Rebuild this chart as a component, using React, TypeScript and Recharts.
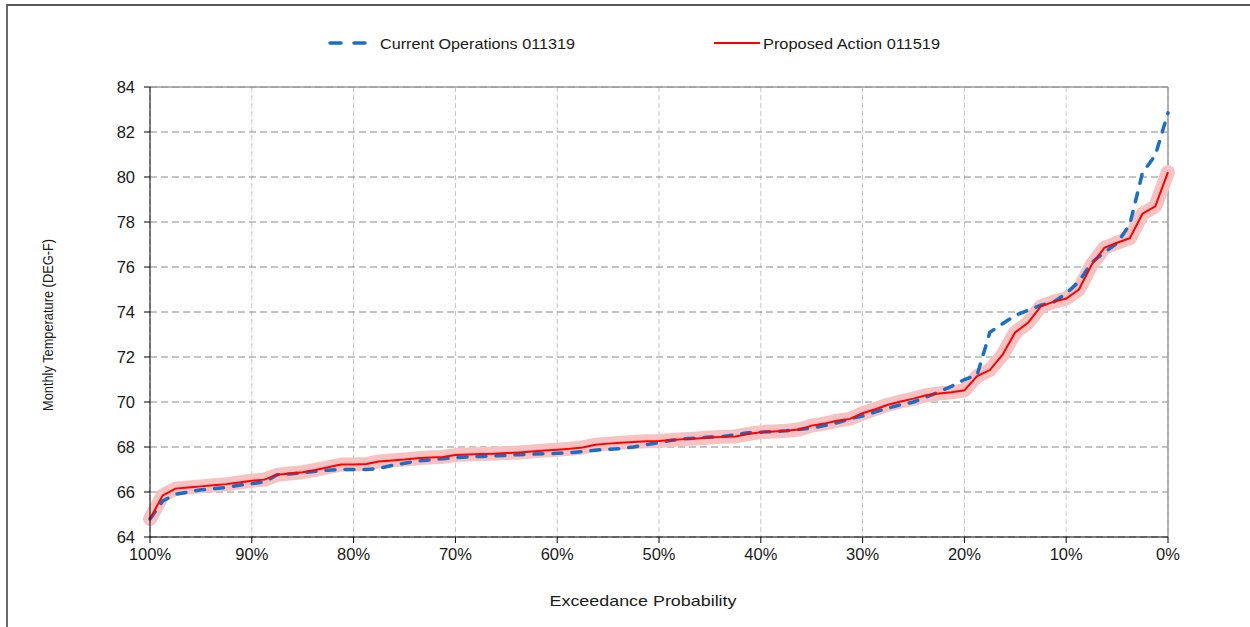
import React from "react";
import {
  LineChart,
  Line,
  XAxis,
  YAxis,
  CartesianGrid,
  ReferenceLine,
  Legend,
} from "recharts";

// Exceedance probability (%) for each ranked value
const prob = [
  100, 98.75, 97.5, 96.25, 95, 93.75, 92.5, 91.25, 90, 88.75, 87.5, 86.25, 85,
  83.75, 82.5, 81.25, 80, 78.75, 77.5, 76.25, 75, 73.75, 72.5, 71.25, 70, 68.75,
  67.5, 66.25, 65, 63.75, 62.5, 61.25, 60, 58.75, 57.5, 56.25, 55, 53.75, 52.5,
  51.25, 50, 48.75, 47.5, 46.25, 45, 43.75, 42.5, 41.25, 40, 38.75, 37.5, 36.25,
  35, 33.75, 32.5, 31.25, 30, 28.75, 27.5, 26.25, 25, 23.75, 22.5, 21.25, 20,
  18.75, 17.5, 16.25, 15, 13.75, 12.5, 11.25, 10, 8.75, 7.5, 6.25, 5, 3.75, 2.5,
  1.25, 0,
];

// Current Operations 011319 (deg F)
const currentOps = [
  64.8, 65.6, 65.9, 66.0, 66.1, 66.15, 66.2, 66.3, 66.37, 66.45, 66.77, 66.8,
  66.85, 66.92, 66.97, 67.0, 67.0, 67.0, 67.05, 67.18, 67.28, 67.38, 67.43,
  67.48, 67.52, 67.56, 67.58, 67.6, 67.63, 67.66, 67.68, 67.7, 67.72, 67.75,
  67.8, 67.86, 67.9, 67.93, 68.0, 68.1, 68.2, 68.3, 68.36, 68.4, 68.44, 68.47,
  68.55, 68.63, 68.66, 68.68, 68.72, 68.78, 68.84, 68.95, 69.08, 69.25, 69.38,
  69.56, 69.73, 69.88, 70.0, 70.22, 70.45, 70.7, 71.0, 71.2, 73.1, 73.48, 73.85,
  74.08, 74.3, 74.44, 74.82, 75.35, 76.2, 76.65, 77.05, 77.9, 80.2, 80.96, 82.85,
];

// Proposed Action 011519 (deg F)
const proposedAction = [
  64.8, 65.85, 66.15, 66.2, 66.25, 66.3, 66.35, 66.42, 66.5, 66.55, 66.77, 66.82,
  66.88, 66.98, 67.1, 67.22, 67.22, 67.24, 67.36, 67.4, 67.44, 67.5, 67.53,
  67.56, 67.64, 67.67, 67.69, 67.7, 67.73, 67.76, 67.8, 67.84, 67.88, 67.92,
  67.98, 68.1, 68.15, 68.19, 68.22, 68.26, 68.27, 68.31, 68.35, 68.38, 68.42,
  68.45, 68.47, 68.58, 68.66, 68.69, 68.72, 68.78, 68.95, 69.04, 69.17, 69.25,
  69.5, 69.68, 69.88, 70.02, 70.15, 70.3, 70.38, 70.43, 70.52, 71.15, 71.42,
  72.1, 73.1, 73.52, 74.25, 74.45, 74.6, 75.0, 76.1, 76.85, 77.08, 77.28, 78.37,
  78.7, 80.22,
];

const xTicks = [0, 10, 20, 30, 40, 50, 60, 70, 80, 90, 100];
const yTicks = [64, 66, 68, 70, 72, 74, 76, 78, 80, 82, 84];

const seriesNames = ["Current Operations 011319", "Proposed Action 011519"];

const data = prob.map((p, i) => ({
  p,
  cur: currentOps[i],
  prop: proposedAction[i],
}));

const FONT = "'Liberation Sans', Arial, sans-serif";
const BLUE = "#1a6fc4";
const RED = "#ff0000";
const HALO = "#f9c2c2";

const LegendContent = () => (
  <div style={{ position: "relative", width: 1250, height: 24, fontFamily: FONT }}>
    <svg width={1250} height={24} style={{ position: "absolute", left: 0, top: 0 }}>
      <line x1={330} y1={12} x2={369} y2={12} stroke={BLUE} strokeWidth={3.5} strokeDasharray="11 13" strokeLinecap="round" />
      <text x={380} y={12} dominantBaseline="central" fontSize={15} fill="#1a1a1a" fontFamily={FONT} textLength={195} lengthAdjust="spacingAndGlyphs">
        {seriesNames[0]}
      </text>
      <line x1={714} y1={12} x2={760} y2={12} stroke={RED} strokeWidth={2} />
      <text x={763} y={12} dominantBaseline="central" fontSize={15} fill="#1a1a1a" fontFamily={FONT} textLength={177} lengthAdjust="spacingAndGlyphs">
        {seriesNames[1]}
      </text>
    </svg>
  </div>
);

export default function App() {
  return (
    <div style={{ position: "absolute", left: 0, top: 0, width: 1250, height: 627, background: "#fff", overflow: "hidden" }}>
      <div
        style={{
          position: "absolute",
          left: 6,
          top: 4,
          width: 1260,
          height: 640,
          borderTop: "2px solid #595959",
          borderLeft: "2px solid #6a6a6a",
          boxSizing: "border-box",
        }}
      />
      <LineChart
        width={1250}
        height={627}
        data={data}
        margin={{ top: 87, right: 82, bottom: 60, left: 0 }}
        style={{ position: "absolute", left: 0, top: 0 }}
      >
        <CartesianGrid horizontal={false} vertical={true} stroke="#c4c4c4" strokeDasharray="5 3" />
        <CartesianGrid horizontal={true} vertical={false} stroke="#8a8a8a" strokeDasharray="7 4" />
        <XAxis
          dataKey="p"
          type="number"
          domain={[0, 100]}
          reversed
          ticks={xTicks}
          tickFormatter={(v) => `${v}%`}
          height={30}
          tickSize={6}
          tickMargin={5}
          stroke="#000"
          tick={{ fill: "#1a1a1a", fontSize: 16.5, fontFamily: FONT }}
          label={{
            content: () => (
              <text x={643} y={600} textAnchor="middle" dominantBaseline="central" fontSize={15} fill="#1a1a1a" fontFamily={FONT} textLength={187} lengthAdjust="spacingAndGlyphs">
                Exceedance Probability
              </text>
            ),
          }}
        />
        <YAxis
          type="number"
          domain={[64, 84]}
          ticks={yTicks}
          width={150}
          tickSize={6}
          tickMargin={9}
          stroke="#000"
          tick={{ fill: "#1a1a1a", fontSize: 16.5, fontFamily: FONT }}
          label={{
            content: () => (
              <text
                x={47}
                y={325}
                transform="rotate(-90, 47, 325)"
                textAnchor="middle"
                dominantBaseline="central"
                fontSize={15.5}
                fill="#1a1a1a"
                fontFamily={FONT}
                textLength={172}
                lengthAdjust="spacingAndGlyphs"
              >
                Monthly Temperature (DEG-F)
              </text>
            ),
          }}
        />
        <ReferenceLine y={84} stroke="#9a9a9a" strokeWidth={1.5} />
        <ReferenceLine x={0} stroke="#9a9a9a" strokeWidth={1.5} />
        <Legend
          verticalAlign="middle"
          align="center"
          layout="horizontal"
          wrapperStyle={{ position: "absolute", top: 31, left: 0, width: 1250 }}
          content={() => <LegendContent />}
        />
        <Line
          dataKey="prop"
          name="halo"
          legendType="none"
          stroke={HALO}
          strokeWidth={14}
          strokeLinejoin="round"
          strokeLinecap="round"
          dot={false}
          activeDot={false}
          isAnimationActive={false}
        />
        <Line
          dataKey="cur"
          name={seriesNames[0]}
          stroke={BLUE}
          strokeWidth={3.5}
          strokeDasharray="9 10"
          strokeLinecap="round"
          dot={false}
          activeDot={false}
          isAnimationActive={false}
        />
        <Line
          dataKey="prop"
          name={seriesNames[1]}
          stroke={RED}
          strokeWidth={2}
          dot={false}
          activeDot={false}
          isAnimationActive={false}
        />
      </LineChart>
    </div>
  );
}
